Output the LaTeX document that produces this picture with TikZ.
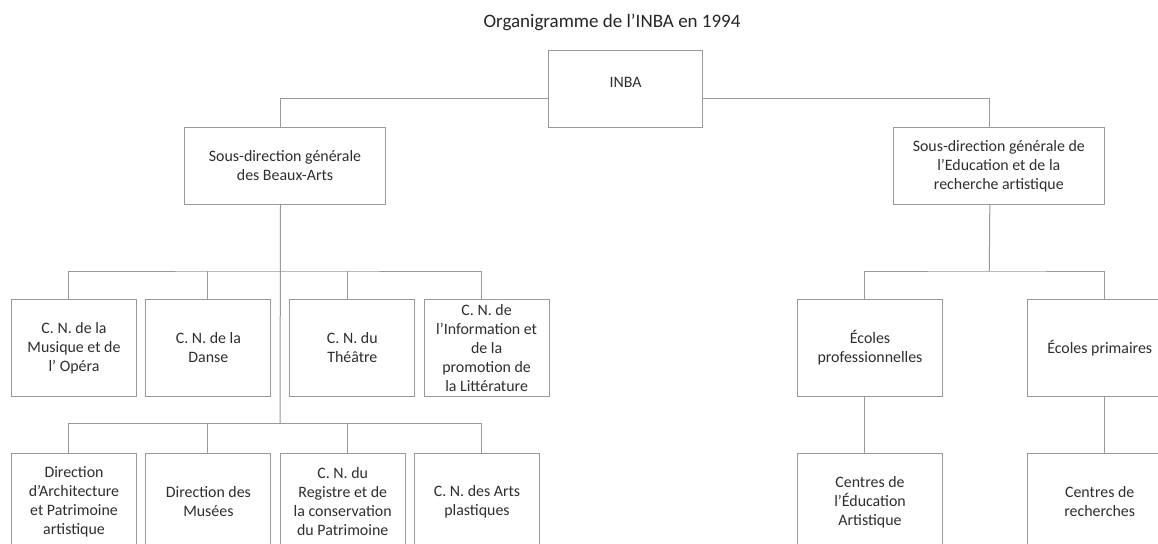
\documentclass[tikz,border=0pt]{standalone}
\usepackage{fontspec}
\setmainfont{Carlito}
\begin{document}
\begin{tikzpicture}[x=1pt,y=-1pt]
\tikzset{
  orgbox/.style={draw=black!40, line width=1pt, anchor=north west, inner sep=0pt,
    align=center, text=black!82, font=\fontsize{15.9}{19}\selectfont},
  rowbox/.style={orgbox, minimum width=125pt, minimum height=97pt},
  edubox/.style={orgbox, minimum width=144.4pt, minimum height=97pt},
  link/.style={draw=black!40, line width=1pt},
  titletext/.style={text=black!85, font=\fontsize{19}{23}\selectfont}
}
\useasboundingbox (0,0) rectangle (1158,543);
\clip (0,0) rectangle (1158,543);
\fill[white] (0,0) rectangle (1158,543);

% title
\node[titletext] (title) at (612,22) {Organigramme de l’INBA en 1994};

% top levels
\node[orgbox, minimum width=154pt, minimum height=77pt] (inba) at (548,50) {\raisebox{2pt}[0pt][0pt]{INBA}};
\node[orgbox, minimum width=201pt, minimum height=77pt] (sba) at (184,127) {Sous-direction générale\\des Beaux-Arts};
\node[orgbox, minimum width=211.4pt, minimum height=77pt] (sde) at (892.6,127) {Sous-direction générale de\\l’Education et de la\\recherche artistique};

% row 1
\node[rowbox] (r1a) at (11,299) {C. N. de la\\Musique et de\\l’ Opéra};
\node[rowbox] (r1b) at (145.4,299) {C. N. de la\\Danse};
\node[rowbox] (r1c) at (289.3,299) {C. N. du\\Théâtre};
\node[rowbox] (r1d) at (423.6,299) {C. N. de\\l’Information et\\de la\\promotion de\\la Littérature};

% row 2
\node[rowbox] (r2a) at (11,453) {Direction\\d’Architecture\\et Patrimoine\\artistique};
\node[rowbox] (r2b) at (145.4,453) {Direction des\\Musées};
\node[rowbox] (r2c) at (279.7,453) {C. N. du\\Registre et de\\la conservation\\du Patrimoine};
\node[rowbox] (r2d) at (414,453) {C. N. des Arts\\plastiques};

% education side
\node[edubox] (ep) at (797.3,299) {Écoles\\professionnelles};
\node[edubox] (epr) at (1027,299) {Écoles primaires};
\node[edubox] (cea) at (797.3,453) {Centres de\\l’Éducation\\Artistique};
\node[edubox] (cr) at (1027,453) {Centres de\\recherches};

% bus coordinates
\coordinate (bus1) at (280,271);
\coordinate (bus2) at (280,423.3);
\coordinate (bus3) at (989.3,271);

% INBA connectors
\draw[link] ([yshift=-9.2pt]inba.west) -| ([xshift=-4.5pt]sba.north);
\draw[link] ([yshift=-9.2pt]inba.east) -| ([xshift=-9pt]sde.north);

% Beaux-Arts trunk
\draw[link] ([xshift=-4.5pt]sba.south) -- (bus2);

% row 1 bus
\draw[link] ([xshift=-5.1pt]r1a.north) |- (bus1) -| ([xshift=-5pt]r1d.north);
\draw[link] ([xshift=-0.5pt]r1b.north) -- ([xshift=-0.5pt]r1b.north |- bus1);
\draw[link] ([xshift=-4.7pt]r1c.north) -- ([xshift=-4.7pt]r1c.north |- bus1);

% row 2 bus
\draw[link] ([xshift=-5.1pt]r2a.north) |- (bus2) -| ([xshift=4.5pt]r2d.north);
\draw[link] ([xshift=-0.5pt]r2b.north) -- ([xshift=-0.5pt]r2b.north |- bus2);
\draw[link] ([xshift=5pt]r2c.north) -- ([xshift=5pt]r2c.north |- bus2);

% education connectors
\draw[link] ([xshift=-9pt]sde.south) -- (bus3);
\draw[link] ([xshift=-5.2pt]ep.north) |- (bus3) -| ([xshift=5.1pt]epr.north);
\draw[link] ([xshift=-5.2pt]ep.south) -- ([xshift=-5.2pt]cea.north);
\draw[link] ([xshift=5.1pt]epr.south) -- ([xshift=5.1pt]cr.north);
\end{tikzpicture}
\end{document}
